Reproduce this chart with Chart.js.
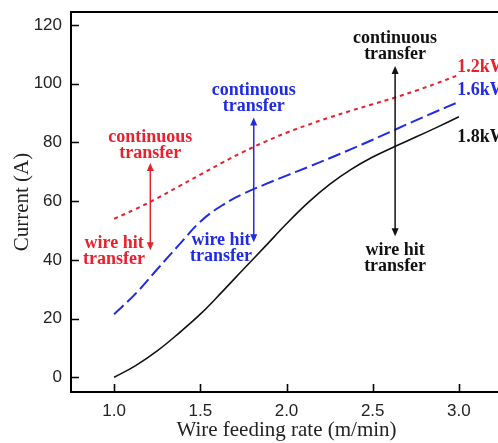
<!DOCTYPE html>
<html>
<head>
<meta charset="utf-8">
<script src="https://cdn.jsdelivr.net/npm/chart.js@4/dist/chart.umd.min.js"></script>
<style>
  html, body { margin: 0; padding: 0; background: #fff; overflow: hidden; }
  #wrap { width: 504px; height: 443px; }
</style>
</head>
<body>
<div id="wrap"><canvas id="chart"></canvas></div>
<script>
// wire feeding rate (m/min) vs current (A)
const wireRate = [1.0, 1.125, 1.25, 1.375, 1.5, 1.625, 1.75, 1.875, 2.0, 2.125, 2.25, 2.375, 2.5, 2.625, 2.75, 2.875, 3.0];
const current12 = [54, 57.3, 61, 65, 69, 73, 76.8, 80.2, 83.3, 86, 88.5, 90.8, 93, 95.2, 97.6, 100.2, 103];
const current16 = [21.5, 28.5, 36.8, 45, 53, 58.5, 62.5, 65.7, 68.7, 71.6, 74.6, 77.7, 80.9, 84.2, 87.5, 90.7, 93.8];
const current18 = [0, 4, 9, 15, 21.5, 29, 36.8, 44.5, 52.3, 59.5, 65.7, 70.8, 75, 78.5, 81.8, 85.2, 88.7];
const xTicks = [1.0, 1.5, 2.0, 2.5, 3.0];
const yTicks = [0, 20, 40, 60, 80, 100, 120];
const seriesLabels = ["1.2kW", "1.6kW", "1.8kW"];

const RED = "#e8212b", BLUE = "#1f2be6", BLACK = "#111";

// text notes and arrows, placed in data units
const notes = [
    { lines: ["continuous", "transfer"], x: 1.21, y: 81.8, color: RED },
    { lines: ["wire hit", "transfer"], x: 1.0, y: 45.7, color: RED },
    { lines: ["continuous", "transfer"], x: 1.81, y: 97.8, color: BLUE },
    { lines: ["wire hit", "transfer"], x: 1.62, y: 46.7, color: BLUE },
    { lines: ["continuous", "transfer"], x: 2.63, y: 115.5, color: BLACK },
    { lines: ["wire hit", "transfer"], x: 2.63, y: 43.3, color: BLACK }
];
const arrows = [
    { x: 1.21, top: 73, bottom: 43.3, color: RED },
    { x: 1.81, top: 88.5, bottom: 46, color: BLUE },
    { x: 2.63, top: 106, bottom: 48, color: BLACK }
];
const endLabels = [
    { text: seriesLabels[0], x: 2.99, y: 105.6, color: RED },
    { text: seriesLabels[1], x: 2.99, y: 97.8, color: BLUE },
    { text: seriesLabels[2], x: 2.99, y: 81.8, color: BLACK }
];

const toPoints = vals => vals.map((v, i) => ({ x: wireRate[i], y: v }));
const noteFont = "bold 18px 'Liberation Serif', 'Times New Roman', serif";

const extras = {
    id: "extras",
    afterDatasetsDraw(chart) {
        const { ctx, chartArea: a, scales: { x, y } } = chart;
        ctx.save();
        // top frame line
        ctx.strokeStyle = "#000";
        ctx.lineWidth = 2;
        ctx.beginPath();
        ctx.moveTo(a.left - 1, a.top);
        ctx.lineTo(a.right + 2, a.top);
        ctx.stroke();
        // inward ticks
        ctx.lineWidth = 1.6;
        ctx.beginPath();
        xTicks.forEach(v => {
            const px = Math.round(x.getPixelForValue(v)) + 0.5;
            ctx.moveTo(px, a.bottom);
            ctx.lineTo(px, a.bottom - 8);
        });
        yTicks.forEach(v => {
            const py = Math.round(y.getPixelForValue(v)) + 0.5;
            ctx.moveTo(a.left, py);
            ctx.lineTo(a.left + 8, py);
        });
        ctx.stroke();

        // double-headed arrows
        arrows.forEach(ar => {
            const px = x.getPixelForValue(ar.x);
            const t = y.getPixelForValue(ar.top), b = y.getPixelForValue(ar.bottom);
            ctx.strokeStyle = ar.color;
            ctx.fillStyle = ar.color;
            ctx.lineWidth = 1.5;
            ctx.beginPath();
            ctx.moveTo(px, t + 4);
            ctx.lineTo(px, b - 4);
            ctx.stroke();
            ctx.beginPath();
            ctx.moveTo(px, t);
            ctx.lineTo(px - 3.5, t + 8);
            ctx.lineTo(px + 3.5, t + 8);
            ctx.closePath();
            ctx.fill();
            ctx.beginPath();
            ctx.moveTo(px, b);
            ctx.lineTo(px - 3.5, b - 8);
            ctx.lineTo(px + 3.5, b - 8);
            ctx.closePath();
            ctx.fill();
        });

        ctx.font = noteFont;
        ctx.textBaseline = "middle";
        ctx.textAlign = "center";
        notes.forEach(n => {
            ctx.fillStyle = n.color;
            const px = x.getPixelForValue(n.x), py = y.getPixelForValue(n.y);
            n.lines.forEach((line, i) => ctx.fillText(line, px, py + i * 16.5));
        });
        ctx.textAlign = "left";
        endLabels.forEach(l => {
            ctx.fillStyle = l.color;
            ctx.fillText(l.text, x.getPixelForValue(l.x), y.getPixelForValue(l.y));
        });
        ctx.restore();
    }
};

new Chart(document.getElementById("chart"), {
    type: "line",
    data: {
        datasets: [
            { label: seriesLabels[0], data: toPoints(current12), borderColor: RED, borderWidth: 2, borderDash: [4, 4] },
            { label: seriesLabels[1], data: toPoints(current16), borderColor: BLUE, borderWidth: 2, borderDash: [13, 5] },
            { label: seriesLabels[2], data: toPoints(current18), borderColor: BLACK, borderWidth: 1.6 }
        ]
    },
    options: {
        responsive: true,
        maintainAspectRatio: false,
        animation: false,
        layout: { padding: { top: 12, right: 2, left: 0, bottom: 0 } },
        elements: {
            point: { radius: 0 },
            line: { tension: 0.4, fill: false }
        },
        plugins: { legend: { display: false }, tooltip: { enabled: false } },
        scales: {
            x: {
                type: "linear",
                min: 0.75,
                max: 3.25,
                afterBuildTicks: s => { s.ticks = xTicks.map(v => ({ value: v })); },
                afterFit: s => { s.height = 51; s.paddingLeft = 0; s.paddingRight = 0; },
                grid: { display: false, drawTicks: false },
                border: { color: "#000", width: 2 },
                ticks: {
                    padding: 9,
                    color: "#222",
                    font: { family: "'Liberation Sans', Arial, sans-serif", size: 17 },
                    callback: v => v.toFixed(1)
                },
                title: {
                    display: true,
                    text: "Wire feeding rate (m/min)",
                    color: "#222",
                    padding: { top: 0, bottom: 0 },
                    font: { family: "'Liberation Serif', 'Times New Roman', serif", size: 21 }
                }
            },
            y: {
                min: -5,
                max: 124.4,
                afterBuildTicks: s => { s.ticks = yTicks.map(v => ({ value: v })); },
                afterFit: s => { s.width = 71; s.paddingTop = 0; s.paddingBottom = 0; },
                grid: { display: false, drawTicks: false },
                border: { color: "#000", width: 2 },
                ticks: {
                    padding: 9,
                    color: "#222",
                    font: { family: "'Liberation Sans', Arial, sans-serif", size: 17 }
                },
                title: {
                    display: true,
                    text: "Current (A)",
                    color: "#222",
                    padding: { top: 10, bottom: 0 },
                    font: { family: "'Liberation Serif', 'Times New Roman', serif", size: 21 }
                }
            }
        }
    },
    plugins: [extras]
});
</script>
</body>
</html>
